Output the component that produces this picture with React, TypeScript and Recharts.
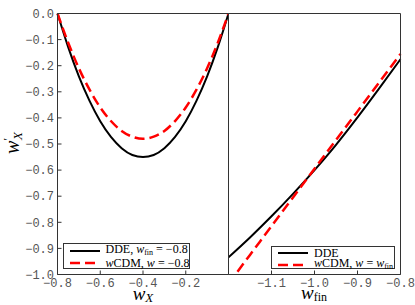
import React from 'react';
import { LineChart, Line, XAxis, YAxis } from 'recharts';

// left panel: w'_X against w_X
const leftX = [-0.8, -0.75, -0.7, -0.65, -0.6, -0.55, -0.5, -0.45, -0.4, -0.35, -0.3, -0.25, -0.2, -0.15, -0.1, -0.05, 0];
const ddeLeft = [0, -0.129, -0.241, -0.335, -0.413, -0.473, -0.516, -0.542, -0.55, -0.542, -0.516, -0.473, -0.413, -0.335, -0.241, -0.129, 0];
const wcdmLeft = [0, -0.112, -0.21, -0.292, -0.36, -0.412, -0.45, -0.472, -0.48, -0.472, -0.45, -0.412, -0.36, -0.292, -0.21, -0.112, 0];

// right panel: w'_X against w_fin
const rightX = [-1.2, -1.15, -1.1, -1.05, -1.0, -0.95, -0.9, -0.85, -0.8];
const ddeRight = [-0.934, -0.858, -0.777, -0.691, -0.6, -0.503, -0.398, -0.288, -0.175];
const wcdmRight = [-1.035, -0.925, -0.815, -0.705, -0.595, -0.485, -0.375, -0.265, -0.155];

const yTicks = [-1.0, -0.9, -0.8, -0.7, -0.6, -0.5, -0.4, -0.3, -0.2, -0.1, 0.0];
const leftXTicks = [-0.8, -0.6, -0.4, -0.2];
const rightXTicks = [-1.1, -1.0, -0.9, -0.8];

const leftData = leftX.map((x, i) => ({ x, dde: ddeLeft[i], wcdm: wcdmLeft[i] }));
const rightData = rightX.map((x, i) => ({ x, dde: ddeRight[i], wcdm: wcdmRight[i] }));

const fmt = (v: number) => (v < -1e-9 ? '\u2212' : '') + Math.abs(v).toFixed(1);

const tickStyle = { fontFamily: 'Liberation Mono', fontSize: 12, fill: '#555', stroke: 'none' };
const AX = '#333';
const serif = 'Liberation Serif';

const LegendRow = ({ dashed, children }: { dashed?: boolean; children: React.ReactNode }) => (
  <div style={{ display: 'flex', alignItems: 'center', height: 12, whiteSpace: 'nowrap' }}>
    <svg width={36} height={12} style={{ flex: 'none' }}>
      <line
        x1={0}
        x2={30}
        y1={6}
        y2={6}
        stroke={dashed ? '#ff0000' : '#000'}
        strokeWidth={dashed ? 2.5 : 2}
        strokeDasharray={dashed ? '10 5' : undefined}
      />
    </svg>
    <span>{children}</span>
  </div>
);

const Sub = ({ children }: { children: React.ReactNode }) => (
  <sub style={{ fontSize: 8, fontStyle: 'normal', verticalAlign: -2 }}>{children}</sub>
);

const App = () => {
  return (
    <div style={{ position: 'absolute', left: 0, top: 0, width: 415, height: 305, background: '#fff', fontFamily: serif }}>
      <div style={{ position: 'absolute', left: 0, top: 0 }}>
        <LineChart width={229} height={305} data={leftData} margin={{ top: 12.5, right: 0, left: 0, bottom: 0 }}>
          <XAxis dataKey="x" type="number" domain={[-0.8, 0]} ticks={leftXTicks} tickFormatter={fmt}
            height={30.5} tickSize={-4} tickMargin={8} stroke={AX} tick={tickStyle} />
          <XAxis xAxisId="top" orientation="top" dataKey="x" type="number" domain={[-0.8, 0]} ticks={leftXTicks}
            height={1} tickSize={-4} tick={false} stroke={AX} />
          <YAxis type="number" domain={[-1, 0]} ticks={yTicks} tickFormatter={fmt} width={57.5}
            tickSize={-4} tickMargin={7.5} stroke={AX} tick={tickStyle} allowDataOverflow />
          <YAxis yAxisId="right" orientation="right" type="number" domain={[-1, 0]} ticks={yTicks} width={0.5}
            tickSize={-4} tick={false} stroke={AX} />
          <Line type="monotone" dataKey="dde" stroke="#000" strokeWidth={2} dot={false} isAnimationActive={false} />
          <Line type="monotone" dataKey="wcdm" stroke="#ff0000" strokeWidth={2.5} strokeDasharray="10 5" dot={false} isAnimationActive={false} />
        </LineChart>
      </div>

      <div style={{ position: 'absolute', left: 228, top: 0 }}>
        <LineChart width={187} height={305} data={rightData} margin={{ top: 12.5, right: 14, left: 0, bottom: 0 }}>
          <XAxis dataKey="x" type="number" domain={[-1.2, -0.8]} ticks={rightXTicks} tickFormatter={fmt}
            height={30.5} tickSize={-4} tickMargin={8} stroke={AX} tick={tickStyle} />
          <XAxis xAxisId="top" orientation="top" dataKey="x" type="number" domain={[-1.2, -0.8]} ticks={rightXTicks}
            height={1} tickSize={-4} tick={false} stroke={AX} />
          <YAxis type="number" domain={[-1, 0]} ticks={yTicks} width={0.5}
            tickSize={-4} tick={false} stroke={AX} allowDataOverflow />
          <YAxis yAxisId="right" orientation="right" type="number" domain={[-1, 0]} ticks={yTicks} width={0.5}
            tickSize={-4} tick={false} stroke={AX} />
          <Line type="monotone" dataKey="dde" stroke="#000" strokeWidth={2} dot={false} isAnimationActive={false} />
          <Line type="monotone" dataKey="wcdm" stroke="#ff0000" strokeWidth={2.5} strokeDasharray="10 5" dot={false} isAnimationActive={false} />
        </LineChart>
      </div>

      {/* axis titles */}
      <svg width={415} height={305} style={{ position: 'absolute', left: 0, top: 0, pointerEvents: 'none' }}>
        <text x={18.5} y={143} transform="rotate(-90 18.5 143)" textAnchor="middle" fontFamily={serif} fontSize={20} fontStyle="italic">
          w<tspan dy={-7} fontSize={13} fontStyle="normal">{'\u2032'}</tspan>
          <tspan dy={10} dx={-2} fontSize={13}>X</tspan>
        </text>
        <text x={143} y={299.5} textAnchor="middle" fontFamily={serif} fontSize={19} fontStyle="italic">
          w<tspan dy={2.5} fontSize={13}>X</tspan>
        </text>
        <text x={314} y={299} textAnchor="middle" fontFamily={serif} fontSize={19} fontStyle="italic">
          w<tspan dy={2} fontSize={12} fontStyle="normal">fin</tspan>
        </text>
      </svg>

      {/* legends */}
      <div style={{ position: 'absolute', left: 62.5, top: 243, width: 127.5, height: 26, boxSizing: 'border-box',
        border: `1px solid ${AX}`, background: '#fff', padding: '1px 0 0 6px', fontSize: 12, lineHeight: '12px' }}>
        <LegendRow>DDE, <i>w</i><Sub>fin</Sub> = {'\u2212'}0.8</LegendRow>
        <LegendRow dashed><i>w</i>CDM, <i>w</i> = {'\u2212'}0.8</LegendRow>
      </div>
      <div style={{ position: 'absolute', left: 271, top: 245.5, width: 124, height: 23.5, boxSizing: 'border-box',
        border: `1px solid ${AX}`, background: '#fff', padding: '0 0 0 6px', fontSize: 12, lineHeight: '12px' }}>
        <LegendRow>DDE</LegendRow>
        <LegendRow dashed><i>w</i>CDM, <i>w</i> = <i>w</i><Sub>fin</Sub></LegendRow>
      </div>
    </div>
  );
};

export default App;
